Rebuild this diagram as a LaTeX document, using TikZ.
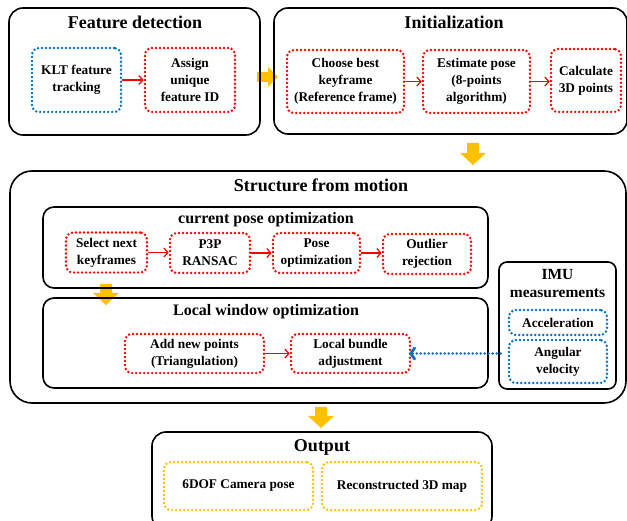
\documentclass[tikz,border=0pt]{standalone}
\usepackage{fontspec}
\setmainfont{Liberation Serif}
\usetikzlibrary{arrows.meta,calc}
\definecolor{yelc}{HTML}{FFC000}
\definecolor{bluec}{HTML}{0070C0}
\tikzset{
  bigbox/.style={draw=black, line width=1.6pt, rounded corners=14pt, inner sep=0pt},
  midbox/.style={draw=black, line width=1.6pt, rounded corners=11pt, inner sep=0pt},
  dotbox/.style={line width=2.7pt, dash pattern=on 0pt off 4pt, line cap=round, rounded corners=7pt, inner sep=0pt, align=center,
     font=\bfseries\fontsize{13.3}{17}\selectfont, text=black},
  redbox/.style={dotbox, draw=red},
  bluebox/.style={dotbox, draw=bluec},
  yelbox/.style={dotbox, draw=yelc},
  bigtitle/.style={font=\bfseries\fontsize{18}{21}\selectfont, inner sep=0pt},
  midtitle/.style={font=\bfseries\fontsize{16}{19}\selectfont, inner sep=0pt},
  redarrow/.style={draw=red, line width=1.2pt, -{Straight Barb[length=4pt,width=9pt]}},
  bluearrow/.style={draw=bluec, line width=2.7pt, dash pattern=on 0pt off 4pt, line cap=round, -{Straight Barb[length=4pt,width=11pt,line cap=round, line join=round]}},
  yelarrow/.style={fill=yelc},
}
\begin{document}
\begin{tikzpicture}[x=1pt,y=-1pt]
\useasboundingbox (0,0) rectangle (627,521);
% yellow block arrows (behind)
\fill[yelarrow] (257,72) -- (268,72) -- (268,67) -- (278,77) -- (268,87) -- (268,82) -- (257,82) -- cycle;
\fill[yelarrow] (467,143) -- (479,143) -- (479,153) -- (486,153) -- (473,165) -- (460,153) -- (467,153) -- cycle;
\fill[yelarrow] (100,284) -- (112,284) -- (112,293) -- (119,293) -- (106,305) -- (93,293) -- (100,293) -- cycle;
\fill[yelarrow] (315,407) -- (327,407) -- (327,416) -- (334,416) -- (321,428) -- (308,416) -- (315,416) -- cycle;

% Feature detection
\node[bigbox, minimum width=251pt, minimum height=127pt] (fd) at (134.5,71.5) {};
\node[bigtitle] (fdt) at (135,22) {Feature detection};
\node[bluebox, minimum width=89pt, minimum height=64pt] (klt) at (76.5,80) {KLT feature\\tracking};
\node[redbox, minimum width=90pt, minimum height=64pt] (assign) at (190,80) {Assign\\unique\\feature ID};
\draw[redarrow] (klt.east) -- (assign.west);

% Initialization
\node[bigbox, minimum width=353pt, minimum height=126pt] (init) at (450.5,71) {};
\node[bigtitle] (initt) at (454,22) {Initialization};
\node[redbox, minimum width=117pt, minimum height=63pt] (choose) at (345.5,81.5) {Choose best\\keyframe\\(Reference frame)};
\node[redbox, minimum width=107pt, minimum height=63pt] (est) at (476.5,81.5) {Estimate pose\\(8-points\\algorithm)};
\node[redbox, minimum width=70pt, minimum height=63pt] (calc) at (586,80.5) {Calculate\\3D points};
\draw[redarrow] (choose.east) -- (est.west);
\draw[redarrow] (est.east) -- (est.east -| calc.west);

% Structure from motion
\node[bigbox, rounded corners=22pt, minimum width=616pt, minimum height=232pt] (sfm) at (318,287) {};
\node[bigtitle] (sfmt) at (321,185) {Structure from motion};

\node[midbox, minimum width=445pt, minimum height=81pt] (cpo) at (265.5,247.5) {};
\node[midtitle] (cpot) at (266,220) {current pose optimization};
\node[redbox, minimum width=81pt, minimum height=40pt] (sel) at (106.5,252.5) {Select next\\keyframes};
\node[redbox, minimum width=80pt, minimum height=40pt] (p3p) at (210,253) {P3P\\RANSAC};
\node[redbox, minimum width=87pt, minimum height=40pt] (pose) at (316.5,253) {Pose\\optimization};
\node[redbox, minimum width=88pt, minimum height=40pt] (outl) at (427,254) {Outlier\\rejection};
\draw[redarrow] (sel.east) -- (sel.east -| p3p.west);
\draw[redarrow] (p3p.east) -- (pose.west);
\draw[redarrow] (pose.east) -- (pose.east -| outl.west);

\node[midbox, minimum width=445pt, minimum height=90pt] (lwo) at (265.5,343) {};
\node[midtitle] (lwot) at (266,312) {Local window optimization};
\node[redbox, minimum width=139pt, minimum height=39pt] (add) at (194.5,353.5) {Add new points\\(Triangulation)};
\node[redbox, minimum width=119pt, minimum height=39pt] (lba) at (350.5,353.5) {Local bundle\\adjustment};
\draw[redarrow] (add.east) -- (lba.west);

\node[midbox, rounded corners=8pt, minimum width=117pt, minimum height=127pt] (imu) at (557.5,325.5) {};
\node[midtitle, align=center, font=\bfseries\fontsize{15.5}{18}\selectfont] (imut) at (557.5,284) {IMU\\measurements};
\node[bluebox, minimum width=98pt, minimum height=25pt] (acc) at (558,322.5) {Acceleration};
\node[bluebox, minimum width=98pt, minimum height=43pt] (ang) at (558,361.5) {Angular\\velocity};
\coordinate (bstart) at (ang.west |- lba.east);
\draw[bluearrow, shorten <=7pt, shorten >=-2pt] (bstart) -- (lba.east);

% Output
\node[bigbox, minimum width=340pt, minimum height=98pt] (out) at (322,481) {};
\node[bigtitle] (outt) at (322,447) {Output};
\node[yelbox, minimum width=149pt, minimum height=48pt] (dof) at (238.5,486) {6DOF Camera pose};
\node[yelbox, minimum width=160pt, minimum height=48pt] (rec) at (402,486) {Reconstructed 3D map};
\end{tikzpicture}
\end{document}
